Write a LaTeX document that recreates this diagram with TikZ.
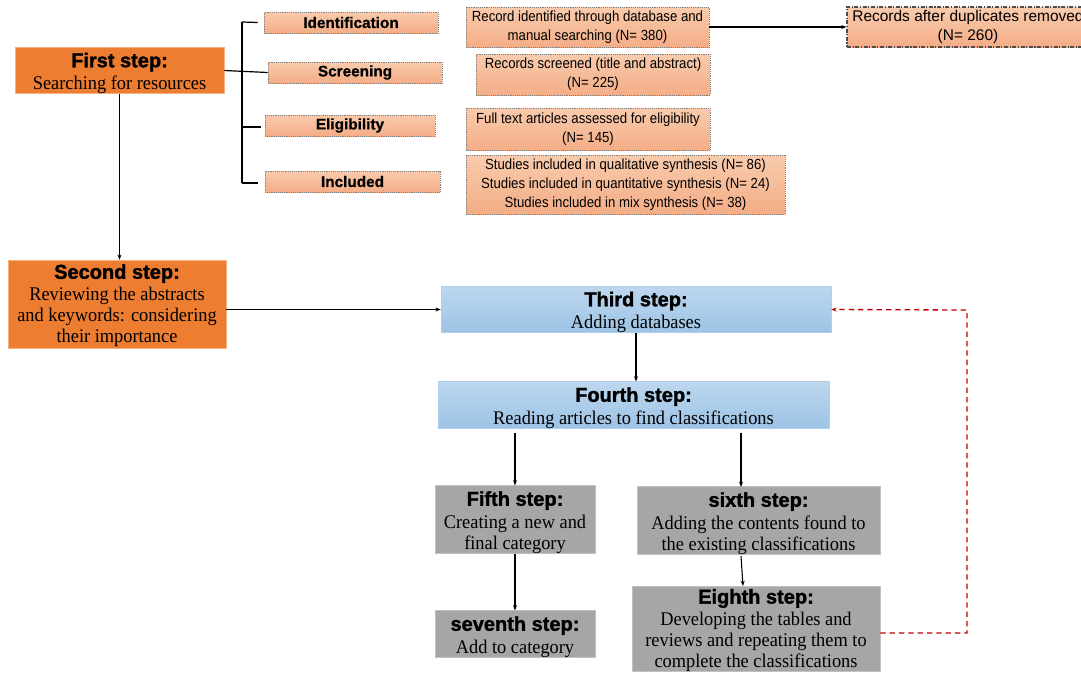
\documentclass[tikz,border=0pt]{standalone}
\usepackage{fontspec}
\setmainfont{Liberation Serif}
\setsansfont{Liberation Sans}
\usetikzlibrary{arrows.meta}
\definecolor{orng}{HTML}{ED7D31}
\definecolor{salT}{HTML}{F8CBAD}
\definecolor{salB}{HTML}{F4AD86}
\definecolor{bluT}{HTML}{BDD7EE}
\definecolor{bluB}{HTML}{9DC3E6}
\definecolor{gry}{HTML}{A6A6A6}
\definecolor{dred}{HTML}{C00000}
\newfontfamily\hdfont[FakeBold=1.6]{Liberation Sans Bold}
\newfontfamily\recfont[FakeStretch=0.9]{Liberation Sans}
\newfontfamily\dupfont{Liberation Sans}
\newfontfamily\labfont[FakeBold=0.8]{Liberation Sans Bold}
\newfontfamily\bodyfont[FakeStretch=0.95]{Liberation Serif}
\newcommand{\hd}[1]{{\hdfont\fontsize{15}{16}\selectfont\rule{0pt}{15pt}#1}\\[1pt]}
\newcommand{\hdb}[1]{{\hdfont\fontsize{15}{16}\selectfont\rule{0pt}{13pt}#1}\\[0.5pt]}
\tikzset{
  stepbox/.style={inner sep=0pt, align=center, font=\bodyfont\fontsize{14.5}{15.75}\selectfont},
  orangebox/.style={stepbox, fill=orng, draw=orng!60!white, line width=0.4pt},
  bluebox/.style={stepbox, top color=bluT, bottom color=bluB, draw=bluB!80!white, line width=0.4pt},
  graybox/.style={stepbox, fill=gry, draw=gry!70!white, line width=0.4pt},
  labbox/.style={inner sep=0pt, align=center, top color=salT, bottom color=salB, draw=gray, densely dotted, line width=0.4pt, font=\labfont\fontsize{11.5}{12}\selectfont},
  recbox/.style={inner sep=0pt, align=center, top color=salT, bottom color=salB, draw=gray, densely dotted, line width=0.4pt, font=\recfont\fontsize{11}{14.4}\selectfont},
  arr/.style={draw=black, line width=0.8pt, -{Stealth[length=4pt,width=3pt]}},
  ln/.style={draw=black, line width=0.9pt},
  fb/.style={draw=dred, line width=1pt, dash pattern=on 4pt off 3pt, -{Stealth[length=4pt,width=3pt]}},
}
\begin{document}
\begin{tikzpicture}[x=0.75pt,y=-0.75pt]
\clip (0,0) rectangle (1081,672);
\fill[white] (0,0) rectangle (1081,672);
% orange step boxes
\node[orangebox, minimum width=156.75pt, minimum height=33.75pt] (first) at (119.5,70.5) {\hd{First step:}Searching for resources};
\node[orangebox, minimum width=163.5pt, minimum height=66pt] (second) at (117,304) {\hdb{Second step:}Reviewing the abstracts\\and keywords: considering\\their importance};
% blue
\node[bluebox, minimum width=292.5pt, minimum height=33.75pt] (third) at (636,309.5) {\hd{Third step:}Adding databases};
\node[bluebox, minimum width=293.25pt, minimum height=34.5pt] (fourth) at (633.5,405) {\hd{Fourth step:}Reading articles to find classifications};
% gray
\node[graybox, minimum width=120pt, minimum height=50.25pt] (fifth) at (515,519.5) {\hd{Fifth step:}Creating a new and\\final category};
\node[graybox, minimum width=182.25pt, minimum height=50.25pt] (sixth) at (758.5,520.5) {\hd{sixth step:}Adding the contents found to\\the existing classifications};
\node[graybox, minimum width=120pt, minimum height=33pt] (seventh) at (515,634) {\hd{seventh step:}Add to category};
\node[graybox, minimum width=186pt, anchor=north] (eighth) at (756,586) {\hdb{Eighth step:}Developing the tables and\\reviews and repeating them to\\complete the classifications};
% labels
\node[labbox, minimum width=130.5pt, minimum height=15.75pt] (ident) at (351,22.5) {Identification};
\node[labbox, minimum width=130.5pt, minimum height=15.75pt] (screen) at (355,72.5) {Screening};
\node[labbox, minimum width=127.5pt, minimum height=15.75pt] (elig) at (350,125.5) {Eligibility};
\node[labbox, minimum width=131.25pt, minimum height=15.75pt] (incl) at (352.5,181.5) {Included};
% records
\node[recbox, minimum width=182.25pt, minimum height=30pt] (recid) at (587.5,27) {Record identified through database and\\manual searching (N= 380)};
\node[recbox, minimum width=175.5pt, minimum height=30.75pt] (recscr) at (593,74.5) {Records screened (title and abstract)\\(N= 225)};
\node[recbox, minimum width=183pt, minimum height=31.5pt] (full) at (588,129) {Full text articles assessed for eligibility\\(N= 145)};
\node[recbox, minimum width=239.25pt, minimum height=44.25pt] (studies) at (625.5,184.5) {Studies included in qualitative synthesis (N= 86)\\Studies included in quantitative synthesis (N= 24)\\Studies included in mix synthesis (N= 38)};
\node[recbox, font=\dupfont\fontsize{11.6}{14.4}\selectfont, draw=black!70, solid, dash pattern=on 3pt off 1.2pt on 0.8pt off 1.2pt, line width=0.8pt, minimum width=181.5pt, minimum height=30pt] (dup) at (968,27) {Records after duplicates removed\\(N= 260)};
% bracket
\coordinate (bt) at (242,22);
\coordinate (bb) at (242,183);
\draw[ln] (first.east) -- (screen.west);
\draw[ln] (bt) -- (bb);
\draw[ln] (bt) -- ([xshift=-4.5pt]ident.west);
\draw[ln] (242,127) -- ([xshift=-2.5pt]elig.west |- 0,127);
\draw[ln] (bb) -- ([xshift=-5pt]incl.west |- bb);
% arrows
\draw[arr] (recid.east) -- (dup.west);
\draw[arr] (first.south) -- (first.south |- second.north);
\draw[arr] (second.east |- third.west) -- (third.west);
\draw[arr] (third.south) -- (third.south |- fourth.north);
\draw[arr] (fifth.north |- fourth.south) ++(0,4) -- (fifth.north);
\coordinate (s6top) at (741,487);
\draw[arr] ([yshift=-3pt]fourth.south -| s6top) -- (s6top);
\draw[arr] (fifth.south) -- (fifth.south |- seventh.north);
\coordinate (s6bot) at (741,556);
\draw[arr] (s6bot) -- (743,586);
% feedback
\coordinate (fbc1) at (967,633);
\coordinate (fbc2) at (967,310);
\draw[fb] (eighth.east |- fbc1) -- (fbc1) -- (fbc2) -- (third.east);
\end{tikzpicture}
\end{document}
